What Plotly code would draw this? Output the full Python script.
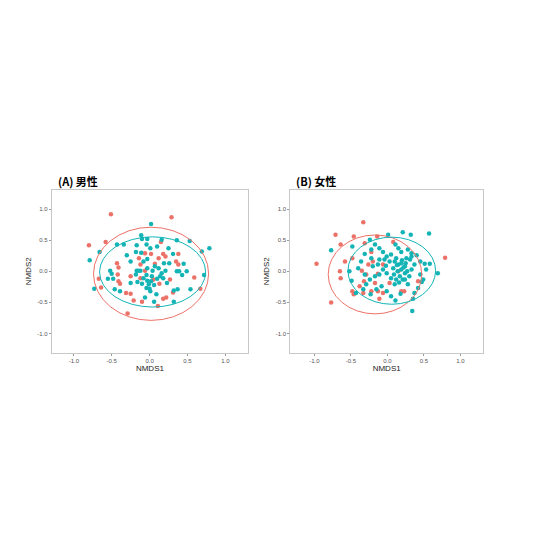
import plotly.graph_objects as go

# NMDS scores
# (A) 男性
m_red_x = [-0.51, 0.29, -0.80, -0.58, -0.67, -0.64, -0.43, -0.41, -0.42, -0.41, -0.39, -0.31, -0.25,
           -0.29, -0.21, -0.10, -0.14, -0.12, -0.06, 0.02, 0.07, 0.12, 0.18, 0.21, 0.15, 0.05, 0.13,
           0.18, 0.22, 0.31, 0.27, 0.38, 0.35, 0.38, 0.59, 0.67, 0.11, -0.12, -0.25, -0.06]
m_red_y = [0.92, 0.87, 0.42, 0.47, -0.12, -0.26, 0.13, 0.06, -0.05, -0.16, -0.20, -0.35, -0.36,
           -0.68, -0.47, -0.49, 0.21, 0.11, 0.29, 0.28, 0.12, 0.21, 0.28, 0.24, 0.47, -0.13, -0.20,
           -0.44, -0.42, -0.34, -0.13, 0.11, 0.16, 0.28, -0.10, -0.28, -0.56, -0.11, -0.08, 0.01]
m_teal_x = [0.02, -0.11, -0.10, -0.03, 0.16, 0.36, 0.53, 0.79, 0.69, -0.66, -0.79, -0.43, -0.34,
            -0.17, -0.04, -0.30, -0.25, -0.18, -0.11, 0.01, 0.10, 0.25, 0.31, 0.19, 0.26, 0.45,
            0.49, 0.36, 0.39, 0.43, 0.72, -0.52, -0.50, -0.55, -0.48, -0.73, -0.46, -0.39, -0.25,
            -0.17, -0.15, -0.12, -0.18, -0.16, -0.08, -0.04, -0.03, -0.04, 0.00, 0.02, 0.03, 0.04,
            0.07, 0.12, 0.16, 0.18, 0.21, 0.14, 0.23, 0.32, 0.37, 0.54, 0.32, 0.06, -0.06, 0.09,
            0.01, -0.03, -0.08, -0.03, -0.01, 0.06, 0.10, -0.10]
m_teal_y = [0.76, 0.58, 0.52, 0.52, 0.51, 0.50, 0.49, 0.37, 0.32, 0.31, 0.18, 0.43, 0.43,
            0.42, 0.43, 0.26, 0.16, 0.31, 0.30, 0.37, 0.40, 0.37, 0.28, 0.13, 0.13, 0.12,
            0.00, 0.00, 0.00, -0.06, -0.06, 0.01, -0.04, -0.12, -0.12, -0.28, -0.29, -0.32, -0.19,
            0.01, 0.01, 0.01, -0.05, -0.17, -0.11, -0.06, -0.15, -0.27, -0.28, -0.16, -0.08, 0.01,
            0.08, 0.05, -0.03, -0.11, 0.01, -0.08, -0.19, -0.31, -0.29, -0.29, -0.49, -0.49, -0.42, -0.37,
            -0.32, 0.05, 0.16, 0.20, -0.21, -0.22, -0.12, -0.20]

# (B) 女性
f_red_x = [-0.33, -0.71, -0.46, -0.64, -0.31, -0.97, -0.58, -0.48, -0.65, -0.64, -0.77, 0.79,
           -0.48, -0.46, -0.33, -0.22, -0.13, -0.11, -0.06, -0.17, -0.29, -0.35, -0.26, -0.20,
           -0.22, -0.14, 0.08, 0.19, 0.23, 0.42, 0.03, -0.13, -0.32, -0.38, 0.15, -0.06]
f_red_y = [0.79, 0.59, 0.56, 0.43, 0.45, 0.12, 0.16, 0.21, 0.00, -0.11, -0.50, 0.22,
           -0.32, -0.37, -0.35, -0.32, -0.32, -0.44, -0.35, -0.19, -0.05, 0.01, 0.11, 0.16,
           0.31, 0.56, 0.47, -0.32, -0.32, -0.16, -0.19, -0.04, -0.16, -0.24, 0.00, 0.11]
f_teal_x = [0.21, 0.32, 0.57, 0.01, -0.24, -0.48, -0.77, 0.11, 0.15, 0.19, 0.28, 0.33, 0.40,
            0.45, 0.51, 0.58, 0.69, 0.53, 0.45, 0.49, 0.42, 0.35, 0.34, 0.18, 0.11, 0.05,
            -0.01, -0.23, -0.33, -0.43, -0.49, -0.52, -0.40, -0.36, -0.31, -0.22, -0.17, -0.11,
            -0.06, -0.01, 0.05, 0.03, 0.10, 0.15, 0.19, 0.24, 0.19, 0.24, 0.17, 0.12, 0.05,
            -0.01, -0.06, -0.11, -0.17, -0.24, -0.31, -0.20, -0.13, -0.04, 0.24, 0.28, 0.33,
            0.37, 0.31, 0.10, -0.08, -0.15, -0.29, 0.08, 0.12, 0.26, 0.21, 0.37, 0.47, -0.22,
            -0.11, 0.22, 0.27, 0.14, 0.30, 0.20, 0.25, 0.16, 0.09, -0.02, 0.33, 0.13]
f_teal_y = [0.63, 0.59, 0.61, 0.59, 0.51, 0.40, 0.34, 0.43, 0.37, 0.31, 0.35, 0.29, 0.26,
            0.16, 0.12, 0.12, -0.03, 0.03, -0.05, -0.13, -0.27, -0.44, -0.64, -0.36, -0.47, -0.40,
            -0.32, -0.37, -0.29, -0.35, -0.15, 0.00, 0.05, 0.16, 0.28, 0.35, 0.43, 0.37,
            0.31, 0.24, 0.27, 0.16, 0.16, 0.11, 0.13, 0.08, 0.03, -0.03, -0.08, -0.13, -0.11,
            -0.03, 0.03, -0.05, -0.08, -0.13, -0.05, 0.08, 0.11, 0.19, -0.13, -0.21, 0.03,
            0.11, 0.19, -0.21, -0.24, -0.29, -0.21, 0.05, 0.21, 0.21, -0.13, -0.35, -0.17, 0.21,
            0.19, 0.06, 0.00, 0.00, -0.08, 0.18, 0.13, -0.18, -0.05, 0.09, 0.24, 0.10]

# 95% ellipses: centre x, centre y, half-width, half-height
m_red_ell = [0.02, -0.04, 0.76, 0.75]
m_teal_ell = [0.04, -0.01, 0.70, 0.565]
f_red_ell = [-0.17, -0.05, 0.64, 0.635]
f_teal_ell = [0.06, 0.01, 0.60, 0.54]

tick_vals = [-1.0, -0.5, 0.0, 0.5, 1.0]
tick_text = ["-1.0", "-0.5", "0.0", "0.5", "1.0"]

RED = "#EC7168"
TEAL = "#14B4B6"

fig = go.Figure()

panels = [
    ("x", "y", m_red_x, m_red_y, m_teal_x, m_teal_y, m_red_ell, m_teal_ell),
    ("x2", "y2", f_red_x, f_red_y, f_teal_x, f_teal_y, f_red_ell, f_teal_ell),
]

for xa, ya, rx, ry, tx, ty, rell, tell in panels:
    fig.add_trace(go.Scatter(x=rx, y=ry, mode="markers", xaxis=xa, yaxis=ya,
                             marker=dict(color=RED, size=4.5), showlegend=False))
    fig.add_trace(go.Scatter(x=tx, y=ty, mode="markers", xaxis=xa, yaxis=ya,
                             marker=dict(color=TEAL, size=4.5), showlegend=False))
    for ell, col in [(rell, RED), (tell, TEAL)]:
        cx, cy, a, b = ell
        fig.add_shape(type="circle", xref=xa, yref=ya,
                      x0=cx - a, x1=cx + a, y0=cy - b, y1=cy + b,
                      line=dict(color=col, width=1))

axis_common = dict(
    tickvals=tick_vals, ticktext=tick_text, showgrid=False, zeroline=False,
    showline=True, mirror=True, linecolor="#C8C8C8", linewidth=1,
    ticks="outside", ticklen=2, tickcolor="#999999",
    tickfont=dict(size=6, color="#555555", family="Liberation Sans"),
    title_font=dict(size=8, color="#222222", family="Liberation Sans"),
)

# the page adds an 8px body margin, so domains are measured from that offset
fig.update_layout(
    width=548, height=548,
    margin=dict(l=0, r=0, t=0, b=0),
    paper_bgcolor="white", plot_bgcolor="white",
    xaxis=dict(domain=[0.080, 0.438], range=[-1.29, 1.30], title_text="NMDS1",
               title_standoff=2, anchor="y", **axis_common),
    yaxis=dict(domain=[0.371, 0.668], range=[-1.31, 1.31], title_text="NMDS2",
               title_standoff=4, anchor="x", **axis_common),
    xaxis2=dict(domain=[0.515, 0.867], range=[-1.33, 1.31], title_text="NMDS1",
                title_standoff=2, anchor="y2", **axis_common),
    yaxis2=dict(domain=[0.371, 0.668], range=[-1.31, 1.31], title_text="NMDS2",
                title_standoff=4, anchor="x2", **axis_common),
    annotations=[
        dict(text="<b>(A) 男性</b>", x=48 / 548, y=1 - 173 / 548, xref="paper", yref="paper",
             xanchor="left", yanchor="middle", showarrow=False,
             font=dict(size=11, color="black", family="Noto Sans CJK JP")),
        dict(text="<b>(B) 女性</b>", x=286 / 548, y=1 - 173 / 548, xref="paper", yref="paper",
             xanchor="left", yanchor="middle", showarrow=False,
             font=dict(size=11, color="black", family="Noto Sans CJK JP")),
    ],
)

fig.write_html("out.html")
